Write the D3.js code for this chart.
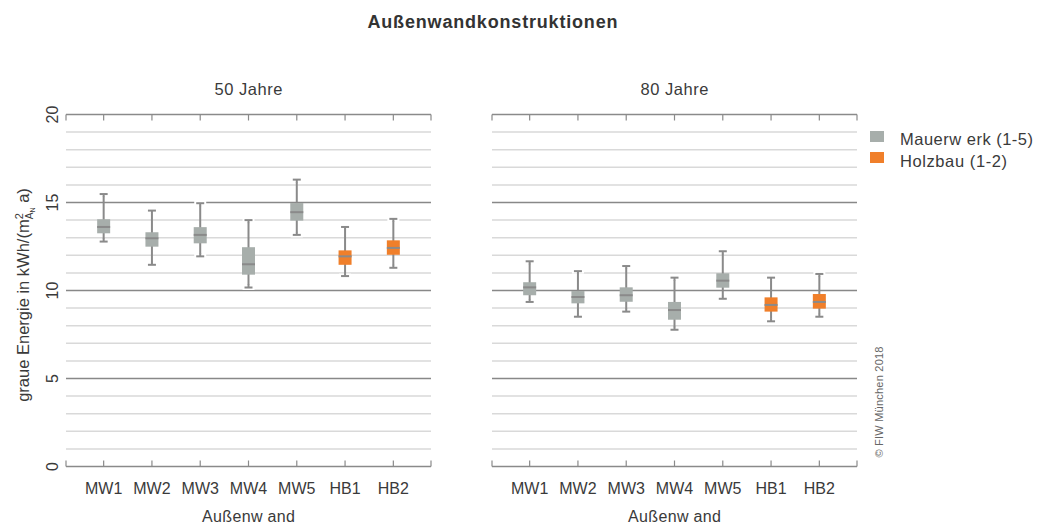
<!DOCTYPE html>
<html><head><meta charset="utf-8">
<script src="https://cdn.jsdelivr.net/npm/d3@7"></script>
<style>
body{margin:0;background:#fff;}
text{font-family:"Liberation Sans",Arial,sans-serif;fill:#3a3a3a;}
</style></head>
<body><svg id="c" width="1039" height="529"></svg>
<script>
const categories = ["MW1","MW2","MW3","MW4","MW5","HB1","HB2"];
const groups = ["M","M","M","M","M","H","H"];
const panels = ["50 Jahre","80 Jahre"];
const yTicks = [0,5,10,15,20];
// [lower whisker, Q1, median, Q3, upper whisker]
const stats50 = [
  [12.78,13.25,13.61,14.05,15.48],
  [11.46,12.49,12.97,13.31,14.54],
  [11.94,12.68,13.16,13.60,14.96],
  [10.17,10.90,11.49,12.46,14.00],
  [13.16,13.97,14.45,14.97,16.30],
  [10.82,11.46,11.94,12.28,13.61],
  [11.29,12.03,12.42,12.85,14.07]
];
const stats80 = [
  [9.35,9.73,10.18,10.47,11.66],
  [8.51,9.27,9.63,9.97,11.10],
  [8.80,9.36,9.73,10.18,11.39],
  [7.77,8.34,8.89,9.35,10.73],
  [9.53,10.16,10.56,10.98,12.23],
  [8.25,8.80,9.18,9.61,10.73],
  [8.51,8.97,9.35,9.80,10.94]
];
const legendLabels = ["Mauerw erk (1-5)","Holzbau (1-2)"];
const colors = {M:"#a7aeab", H:"#f07f2a"};

const svg = d3.select("#c");
const y = d3.scaleLinear().domain([0,20]).range([466.5,114.5]);
const panelX = [[66,431],[492,857]];
const lineCol = "#8a8a8a";

svg.append("text").attr("x",492.5).attr("y",28).attr("text-anchor","middle")
  .attr("textLength",250).attr("lengthAdjust","spacing")
  .style("font-weight","bold").style("font-size","18px").style("fill","#333").text("Außenwandkonstruktionen");

[stats50,stats80].forEach((stats,pi)=>{
  const [x0,x1] = panelX[pi];
  const x = d3.scalePoint().domain(categories).range([x0,x1]).padding(0.78);
  const g = svg.append("g");
  const minor = d3.range(1,20).filter(v=>v%5!==0);
  g.selectAll(".mn").data(minor).join("line")
    .attr("x1",x0).attr("x2",x1).attr("y1",d=>y(d)).attr("y2",d=>y(d))
    .attr("stroke","#d9d9d9").attr("stroke-width",1.5);
  g.selectAll(".mj").data([5,10,15]).join("line")
    .attr("x1",x0).attr("x2",x1).attr("y1",d=>y(d)).attr("y2",d=>y(d))
    .attr("stroke","#888").attr("stroke-width",1.5);
  [[20,1],[0,-1]].forEach(([v,dir])=>{
    const yy = y(v);
    g.append("line").attr("x1",x0).attr("x2",x1).attr("y1",yy).attr("y2",yy)
      .attr("stroke",lineCol).attr("stroke-width",1.5);
    const tx = [x0, ...categories.map(c=>x(c)), x1];
    g.selectAll(null).data(tx).join("line")
      .attr("x1",d=>d).attr("x2",d=>d).attr("y1",yy).attr("y2",yy+dir*6)
      .attr("stroke",lineCol).attr("stroke-width",1.2);
  });
  svg.append("text").attr("x",(x0+x1)/2).attr("y",95).attr("text-anchor","middle")
    .attr("textLength",68).attr("lengthAdjust","spacing")
    .style("font-size","16.5px").text(panels[pi]);
  svg.selectAll(null).data(categories).join("text")
    .attr("x",d=>x(d)).attr("y",494).attr("text-anchor","middle")
    .style("font-size","16px").text(d=>d);
  svg.append("text").attr("x",(x0+x1)/2).attr("y",522).attr("text-anchor","middle")
    .attr("textLength",93).attr("lengthAdjust","spacing")
    .style("font-size","16px").text("Außenw and");
  const bw = 13, cw = 8;
  const bx = g.selectAll(".bx").data(stats).join("g");
  bx.append("line").attr("x1",(d,i)=>x(categories[i])).attr("x2",(d,i)=>x(categories[i]))
    .attr("y1",d=>y(d[0])).attr("y2",d=>y(d[4])).attr("stroke",lineCol).attr("stroke-width",2);
  [0,4].forEach(k=>{
    bx.append("line").attr("x1",(d,i)=>x(categories[i])-cw/2-2).attr("x2",(d,i)=>x(categories[i])+cw/2+2)
      .attr("y1",d=>y(d[k])).attr("y2",d=>y(d[k])).attr("stroke","#fff").attr("stroke-width",5);
    bx.append("line").attr("x1",(d,i)=>x(categories[i])).attr("x2",(d,i)=>x(categories[i]))
      .attr("y1",d=>y(d[k])).attr("y2",d=>y(d[k])+(k===4?3:-3)).attr("stroke",lineCol).attr("stroke-width",2);
    bx.append("line").attr("x1",(d,i)=>x(categories[i])-cw/2).attr("x2",(d,i)=>x(categories[i])+cw/2)
      .attr("y1",d=>y(d[k])).attr("y2",d=>y(d[k])).attr("stroke",lineCol).attr("stroke-width",2);
  });
  bx.append("rect").attr("x",(d,i)=>x(categories[i])-bw/2).attr("width",bw)
    .attr("y",d=>y(d[3])).attr("height",d=>y(d[1])-y(d[3]))
    .attr("fill",(d,i)=>colors[groups[i]]);
  bx.append("line").attr("x1",(d,i)=>x(categories[i])-bw/2).attr("x2",(d,i)=>x(categories[i])+bw/2)
    .attr("y1",d=>y(d[2])).attr("y2",d=>y(d[2])).attr("stroke",lineCol).attr("stroke-width",2);
});

svg.selectAll(".yl").data(yTicks).join("text")
  .attr("transform",d=>`translate(58,${y(d)}) rotate(-90)`).attr("text-anchor","middle")
  .style("font-size","16px").text(d=>d);

const yt = svg.append("text").attr("transform","translate(29,295) rotate(-90)").attr("text-anchor","middle")
  .style("font-size","16.5px");
yt.append("tspan").text("graue Energie in kWh/(m");
yt.append("tspan").attr("dy",-6).style("font-size","11px").text("2");
yt.append("tspan").attr("dx",-6).attr("dy",10).style("font-size","10px").text("A");
yt.append("tspan").attr("dy",2).style("font-size","7px").text("N");
yt.append("tspan").attr("dy",-6).text(" a)");

const lg = svg.append("g");
lg.selectAll("rect").data(["M","H"]).join("rect")
  .attr("x",870).attr("y",(d,i)=>131+i*21).attr("width",14).attr("height",11).attr("fill",d=>colors[d]);
lg.selectAll("text").data(legendLabels).join("text")
  .attr("x",900).attr("y",(d,i)=>145+i*21.5)
  .attr("textLength",(d,i)=>[133,107][i]).attr("lengthAdjust","spacing")
  .style("font-size","16.5px").text(d=>d);
svg.append("text").attr("transform","translate(883,402) rotate(-90)").attr("text-anchor","middle")
  .attr("textLength",111).attr("lengthAdjust","spacing")
  .style("font-size","11px").style("fill","#666").text("© FIW München 2018");
</script></body></html>
